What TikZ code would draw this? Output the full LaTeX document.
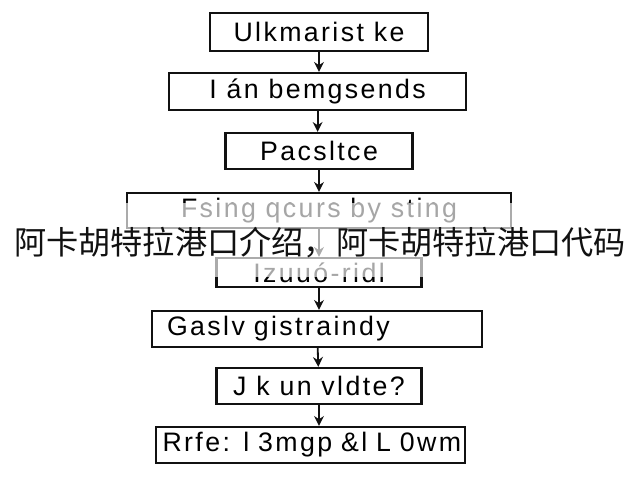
\documentclass[tikz,border=0pt]{standalone}
\usepackage{fontspec}
\setmainfont{Liberation Sans}
\newfontfamily\cjk{Noto Sans CJK SC}
\usepackage{tikz}
\usepackage{xcolor}
\usetikzlibrary{arrows.meta, positioning}
\definecolor{flowInk}{RGB}{17, 17, 17}
\definecolor{flowPaper}{RGB}{255, 255, 255}

\begin{document}
\begin{tikzpicture}[
            stepbox/.style={rectangle, draw=flowInk, line width=1.6pt, fill=flowPaper,
                            minimum height=0.9cm, inner sep=0pt,
                            font=\fontsize{19}{21}\selectfont\addfontfeature{LetterSpace=9}, align=center},
            arrow/.style={-{Stealth[length=7pt, width=7pt]}, line width=1.3pt, draw=flowInk}
        ]
            \useasboundingbox[fill=flowPaper] (0,0) rectangle (16,12);

            \node[stepbox, minimum width=5.45cm, minimum height=0.95cm] (ulk) at (7.975,11.2) {Ulkmarist ke};
            \node[stepbox, minimum width=7.425cm, minimum height=0.925cm] (ban) at (7.94,9.7125) {I án bemgsends};
            \node[stepbox, minimum width=4.675cm] (pac) at (7.975,8.225) {Pacsltce};
            \node[stepbox, minimum width=9.6cm, minimum height=0.875cm] (fsing) at (7.975,6.7375) {Fsing qcurs by sting};
            \node[stepbox, minimum width=5.125cm, minimum height=0.725cm] (izu) at (7.975,5.1875) {Izuuó-ridl};
            \node[stepbox, minimum width=8.25cm, text width=7.5cm, align=left] (gas) at (7.925,3.775) {Gaslv gistraindy};
            \node[stepbox, minimum width=5.125cm] (jk) at (7.975,2.35) {J k un vldte?};
            \node[stepbox, minimum width=7.725cm, text width=7.4cm, align=right] (rrfe) at (7.7625,0.875) {Rrfe: l 3mgp \&l L 0wm};

            \draw[arrow] (ulk) -- (ulk |- ban.north);
            \draw[arrow] (ban) -- (ban |- pac.north);
            \draw[arrow] (pac) -- (pac |- fsing.north);
            \draw[arrow] (fsing) -- (fsing |- izu.north);
            \draw[arrow] (izu) -- (izu |- gas.north);
            \draw[arrow] (gas) -- (jk);
            \draw[arrow] (jk) -- (jk |- rrfe.north);

            % Caption band
            \fill[flowPaper, opacity=0.65] (0,5.075) rectangle (16,6.925);
            \node[font=\cjk\fontsize{22.9}{26}\selectfont, text=flowInk] (caption) at (8,5.925) {阿卡胡特拉港口介绍，阿卡胡特拉港口代码};
        \end{tikzpicture}
\end{document}
